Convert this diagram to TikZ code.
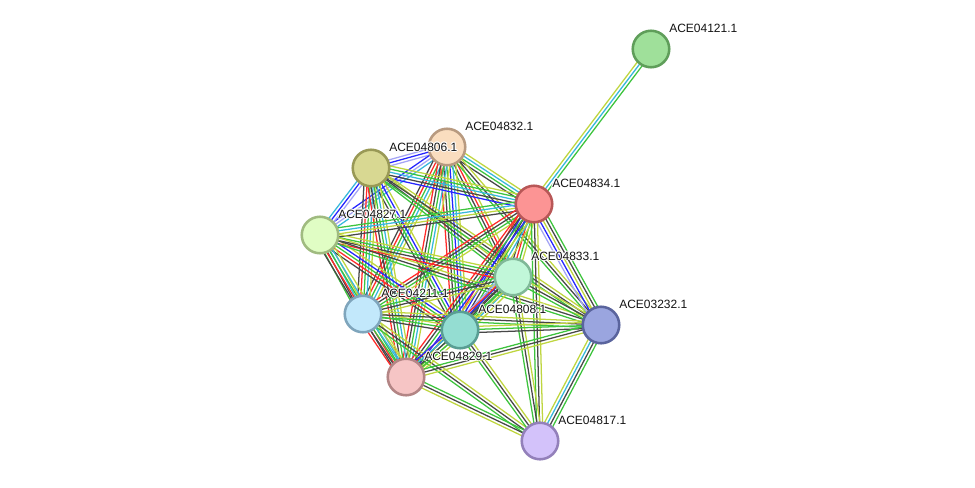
\documentclass[tikz,border=0pt]{standalone}
\usepackage{fontspec}
\setmainfont{Liberation Sans}
\usetikzlibrary{calc}
\pgfdeclarelayer{bg}
\pgfsetlayers{bg,main}
\definecolor{cG}{HTML}{3DC43D}
\definecolor{cK}{HTML}{474747}
\definecolor{cY}{HTML}{BFD63F}
\definecolor{cC}{HTML}{37B8DB}
\definecolor{cR}{HTML}{FF2A2A}
\definecolor{cB}{HTML}{2525FF}
\definecolor{cH}{HTML}{A5A5F5}
\definecolor{fA}{HTML}{9FE09A}\definecolor{dA}{HTML}{5F9E5A}
\definecolor{fB}{HTML}{FADDBF}\definecolor{dB}{HTML}{B89A80}
\definecolor{fC}{HTML}{D8D892}\definecolor{dC}{HTML}{999956}
\definecolor{fD}{HTML}{FC9494}\definecolor{dD}{HTML}{B85757}
\definecolor{fE}{HTML}{E0FDC4}\definecolor{dE}{HTML}{A0BB80}
\definecolor{fF}{HTML}{C1F7D9}\definecolor{dF}{HTML}{80B898}
\definecolor{fG}{HTML}{C2E8FB}\definecolor{dG}{HTML}{7FA5BC}
\definecolor{fH}{HTML}{94DDD2}\definecolor{dH}{HTML}{599E94}
\definecolor{fI}{HTML}{9AA5DF}\definecolor{dI}{HTML}{5A649D}
\definecolor{fJ}{HTML}{F6C5C5}\definecolor{dJ}{HTML}{B38585}
\definecolor{fK}{HTML}{D3C2FA}\definecolor{dK}{HTML}{9380BA}
\newcommand\linkset[3]{%
  \foreach \cc [count=\ii] in {#3} {\xdef\lnum{\ii}}%
  \foreach \cc [count=\ii] in {#3} {%
    \pgfmathsetmacro\offs{(\ii-(\lnum+1)/2)*2.3}%
    \draw[linkline, color=\cc] ($(#1.center)!\offs pt!90:(#2.center)$) -- ($(#2.center)!\offs pt!-90:(#1.center)$);
  }}
\newcommand\hcopy[3]{\rlap{\kern#1\raisebox{#2}{\color{white}#3}}}
\newcommand\halotext[1]{%
  \hcopy{0.7pt}{0pt}{#1}\hcopy{-0.7pt}{0pt}{#1}%
  \hcopy{0pt}{0.7pt}{#1}\hcopy{0pt}{-0.7pt}{#1}%
  \hcopy{0.5pt}{0.5pt}{#1}\hcopy{-0.5pt}{0.5pt}{#1}%
  \hcopy{0.5pt}{-0.5pt}{#1}\hcopy{-0.5pt}{-0.5pt}{#1}%
  #1}
\tikzset{
  pnode/.style 2 args={circle, minimum size=27.4pt, inner sep=0pt, line width=1.9pt, fill=#1, draw=#2},
  lbl/.style={anchor=west, inner sep=0pt, font=\fontsize{9pt}{10pt}\selectfont, text=black!92},
  linkline/.style={line width=0.95pt}
}
\begin{document}
\begin{tikzpicture}[x=0.75pt, y=-0.75pt]
\useasboundingbox (0,0) rectangle (975,487);
\begin{pgfonlayer}{bg}
\fill[white] (0,0) rectangle (975,487);
\end{pgfonlayer}
% nodes
\node[pnode={fA}{dA}] (A) at (651,49) {};
\node[pnode={fB}{dB}] (B) at (447,147) {};
\node[pnode={fC}{dC}] (C) at (371,168) {};
\node[pnode={fD}{dD}] (D) at (534,204) {};
\node[pnode={fE}{dE}] (E) at (320,235) {};
\node[pnode={fF}{dF}] (F) at (513,277) {};
\node[pnode={fG}{dG}] (G) at (363,314) {};
\node[pnode={fH}{dH}] (H) at (460,330) {};
\node[pnode={fI}{dI}] (I) at (601,325) {};
\node[pnode={fJ}{dJ}] (J) at (406,377) {};
\node[pnode={fK}{dK}] (K) at (540,441) {};
% edges
\begin{pgfonlayer}{bg}
\linkset{A}{D}{cY,cC,cG}
\linkset{B}{C}{cH,cB,cH}
\linkset{B}{D}{cK,cG,cC,cY}
\linkset{B}{E}{cB,cH,cC}
\linkset{B}{F}{cG,cK,cR,cY}
\linkset{B}{G}{cK,cR,cG,cC,cY}
\linkset{B}{H}{cR,cK,cG,cB,cC,cY}
\linkset{B}{I}{cG,cK,cY}
\linkset{B}{J}{cR,cK,cG,cC,cY}
\linkset{C}{D}{cB,cK,cC,cG,cY}
\linkset{C}{E}{cC,cB,cH}
\linkset{C}{F}{cG,cK,cY}
\linkset{C}{G}{cK,cR,cG,cC,cY}
\linkset{C}{H}{cK,cG,cB,cY}
\linkset{C}{I}{cG,cK,cY}
\linkset{C}{J}{cR,cK,cG,cC,cY}
\linkset{D}{E}{cG,cC,cY,cK}
\linkset{D}{F}{cK,cR,cG,cY}
\linkset{D}{G}{cR,cK,cG,cY}
\linkset{D}{H}{cR,cB,cK,cG,cC,cY}
\linkset{D}{I}{cH,cB,cY,cK,cG}
\linkset{D}{J}{cR,cK,cG,cB,cY}
\linkset{D}{K}{cG,cK,cY}
\linkset{E}{F}{cR,cK,cG,cY}
\linkset{E}{G}{cG,cK,cC,cY}
\linkset{E}{H}{cK,cR,cG,cB,cY}
\linkset{E}{I}{cG,cK,cY}
\linkset{E}{J}{cK,cR,cG,cC,cY}
\linkset{F}{G}{cG,cK,cY}
\linkset{F}{H}{cH,cB,cK,cG,cC,cY}
\linkset{F}{I}{cG,cK,cY}
\linkset{F}{J}{cR,cK,cG,cY}
\linkset{F}{K}{cG,cK,cY}
\linkset{G}{H}{cK,cG,cY}
\linkset{G}{I}{cG,cK,cY}
\linkset{G}{J}{cR,cK,cG,cC,cY}
\linkset{G}{K}{cG,cK,cY}
\linkset{H}{I}{cK,cG,cY}
\linkset{H}{J}{cB,cC,cK,cG,cY}
\linkset{H}{K}{cG,cK,cY}
\linkset{I}{J}{cG,cK,cY}
\linkset{I}{K}{cY,cC,cK,cG}
\linkset{J}{K}{cY,cK,cG}
\end{pgfonlayer}
% labels
\node[lbl] (lA) at ($(A)+(18,-21)$) {\halotext{ACE04121.1}};
\node[lbl] (lB) at ($(B)+(18,-21)$) {\halotext{ACE04832.1}};
\node[lbl] (lC) at ($(C)+(18,-21)$) {\halotext{ACE04806.1}};
\node[lbl] (lD) at ($(D)+(18,-21)$) {\halotext{ACE04834.1}};
\node[lbl] (lE) at ($(E)+(18,-21)$) {\halotext{ACE04827.1}};
\node[lbl] (lF) at ($(F)+(18,-21)$) {\halotext{ACE04833.1}};
\node[lbl] (lG) at ($(G)+(18,-21)$) {\halotext{ACE04211.1}};
\node[lbl] (lH) at ($(H)+(18,-21)$) {\halotext{ACE04808.1}};
\node[lbl] (lI) at ($(I)+(18,-21)$) {\halotext{ACE03232.1}};
\node[lbl] (lJ) at ($(J)+(18,-21)$) {\halotext{ACE04829.1}};
\node[lbl] (lK) at ($(K)+(18,-21)$) {\halotext{ACE04817.1}};
\end{tikzpicture}
\end{document}
